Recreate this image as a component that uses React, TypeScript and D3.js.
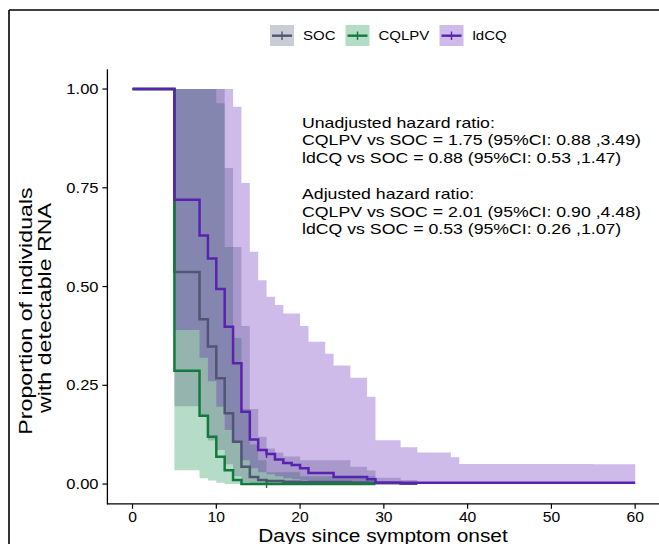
import React from 'react';
import * as d3 from 'd3';

// Kaplan-Meier steps (day, survival, CI lower, CI upper)
const socDays = [0, 5, 8, 9, 10, 11, 12, 13, 14, 15, 16, 17, 18, 20, 26, 28, 29, 32, 34];
const socSurv = [1, 0.537, 0.417, 0.348, 0.268, 0.179, 0.107, 0.044, 0.018, 0.01, 0.008, 0.008, 0.006, 0.005, 0.004, 0.003, 0.002, 0.001, 0];
const socLower = [1, 0.197, 0.17, 0.11, 0.086, 0.05, 0.02, 0.005, 0.002, 0, 0, 0, 0, 0, 0, 0, 0, 0, 0];
const socUpper = [1, 1, 1, 1, 1, 0.8, 0.6, 0.4, 0.19, 0.12, 0.09, 0.08, 0.07, 0.06, 0.044, 0.034, 0.016, 0.01, 0];

const cqDays = [0, 5, 8, 9, 10, 11, 12, 13, 14, 15, 16, 20, 29];
const cqSurv = [1, 0.287, 0.173, 0.12, 0.069, 0.035, 0.01, 0, 0, 0, 0, 0, 0];
const cqLower = [1, 0.035, 0.015, 0.009, 0.003, 0, 0, 0, 0, 0, 0, 0, 0];
const cqUpper = [1, 1, 1, 1, 0.964, 0.6, 0.37, 0.19, 0.1, 0.06, 0.03, 0.02, 0];

const ldDays = [0, 5, 8, 9, 10, 11, 12, 13, 14, 15, 16, 17, 18, 19, 20, 21, 23, 24, 26, 28, 29, 32, 34, 38, 39, 55, 60];
const ldSurv = [1, 0.72, 0.629, 0.571, 0.494, 0.398, 0.306, 0.183, 0.113, 0.086, 0.076, 0.062, 0.053, 0.048, 0.04, 0.028, 0.028, 0.018, 0.018, 0.012, 0.004, 0.003, 0.003, 0.003, 0.003, 0.003, 0.003];
const ldLower = [1, 0.39, 0.32, 0.26, 0.196, 0.137, 0.107, 0.06, 0.04, 0.03, 0.025, 0.02, 0.015, 0.012, 0.01, 0.008, 0.006, 0.005, 0.004, 0.002, 0, 0, 0, 0, 0, 0, 0];
const ldUpper = [1, 1, 1, 1, 1, 1, 0.955, 0.762, 0.588, 0.516, 0.474, 0.453, 0.432, 0.432, 0.4, 0.36, 0.33, 0.3, 0.269, 0.221, 0.111, 0.093, 0.08, 0.068, 0.051, 0.05, 0.05];

// censored observations (+)
const censors = [
  { group: 'CQLPV', day: 16, surv: 0 },
  { group: 'ldCQ', day: 16, surv: 0.076 },
];

const groupNames = ['SOC', 'CQLPV', 'ldCQ'];
const xTicks = [0, 10, 20, 30, 40, 50, 60];
const yTicks = [0, 0.25, 0.5, 0.75, 1];

const hrLines = [
  'Unadjusted hazard ratio:',
  'CQLPV vs SOC = 1.75 (95%CI: 0.88 ,3.49)',
  'ldCQ vs SOC = 0.88 (95%CI: 0.53 ,1.47)',
  '',
  'Adjusted hazard ratio:',
  'CQLPV vs SOC = 2.01 (95%CI: 0.90 ,4.48)',
  'ldCQ vs SOC = 0.53 (95%CI: 0.26 ,1.07)',
];

const colors: Record<string, string> = { SOC: '#4e5a75', CQLPV: '#0a8a45', ldCQ: '#5c1db5' };
const lineColors: Record<string, string> = { SOC: '#4e5674', CQLPV: '#137a3e', ldCQ: '#5a22b0' };
const FONT = '"Liberation Sans", Arial, sans-serif';

const W = 659;
const H = 544;

type Pt = { d: number; s: number; lo: number; hi: number };
const zip = (days: number[], s: number[], lo: number[], hi: number[]): Pt[] =>
  days.map((d, i) => ({ d, s: s[i], lo: lo[i], hi: hi[i] }));

const groups: Record<string, Pt[]> = {
  SOC: zip(socDays, socSurv, socLower, socUpper),
  CQLPV: zip(cqDays, cqSurv, cqLower, cqUpper),
  ldCQ: zip(ldDays, ldSurv, ldLower, ldUpper),
};

// text stretched a little horizontally like the original
const T = ({ x, y, sx = 1.15, size, anchor = 'start', rotate = 0, children }: any) => (
  <text
    transform={`translate(${x},${y}) rotate(${rotate}) scale(${sx},1)`}
    fontSize={size}
    fontFamily={FONT}
    textAnchor={anchor}
    fill="#000"
  >
    {children}
  </text>
);

export default function App() {
  const x = d3.scaleLinear().domain([-3, 63]).range([107.4, 660.3]);
  const y = d3.scaleLinear().domain([-0.05, 1.05]).range([503.8, 69.3]);

  const band = d3
    .area<Pt>()
    .x(p => x(p.d))
    .y0(p => y(p.lo))
    .y1(p => y(p.hi))
    .curve(d3.curveStepAfter);
  const line = d3
    .line<Pt>()
    .x(p => x(p.d))
    .y(p => y(p.s))
    .curve(d3.curveStepAfter);

  const bandOrder = ['CQLPV', 'SOC', 'ldCQ'];
  const lineOrder = ['SOC', 'CQLPV', 'ldCQ'];

  const legendX = [270, 345.5, 439.5];

  return (
    <svg width={W} height={H} style={{ position: 'absolute', left: 0, top: 0, background: '#fff' }}>
      {/* outer frame */}
      <line x1={9} x2={W} y1={10} y2={10} stroke="#000" strokeWidth={1.6} />
      <line x1={9} x2={9} y1={10} y2={H} stroke="#000" strokeWidth={1.6} />

      {/* legend */}
      {groupNames.map((g, i) => (
        <g key={g}>
          <rect x={legendX[i]} y={25} width={24} height={21} fill={colors[g]} fillOpacity={0.3} />
          <line x1={legendX[i] + 2} x2={legendX[i] + 22} y1={35.7} y2={35.7} stroke={lineColors[g]} strokeWidth={2.4} />
          <line x1={legendX[i] + 12} x2={legendX[i] + 12} y1={31.5} y2={40} stroke={lineColors[g]} strokeWidth={1.4} />
          <T x={legendX[i] + 33} y={40.3} size={12.5} sx={1.2}>
            {g}
          </T>
        </g>
      ))}

      {/* confidence bands */}
      {bandOrder.map(g => (
        <path key={g} d={band(groups[g]) || ''} fill={colors[g]} fillOpacity={0.3} />
      ))}

      {/* survival curves */}
      {lineOrder.map(g => (
        <path key={g} d={line(groups[g]) || ''} fill="none" stroke={lineColors[g]} strokeWidth={2.5} />
      ))}

      {censors.map((c, i) => (
        <line
          key={i}
          x1={x(c.day)}
          x2={x(c.day)}
          y1={y(c.surv) - 4}
          y2={y(c.surv) + 4}
          stroke={lineColors[c.group]}
          strokeWidth={1.4}
        />
      ))}

      {/* axes */}
      <line x1={x.range()[0]} x2={x.range()[0]} y1={y.range()[1]} y2={y.range()[0] + 0.6} stroke="#000" strokeWidth={1.3} />
      <line x1={x.range()[0]} x2={W} y1={y.range()[0]} y2={y.range()[0]} stroke="#000" strokeWidth={1.3} />
      {yTicks.map(t => (
        <g key={t}>
          <line x1={x.range()[0] - 5} x2={x.range()[0]} y1={y(t)} y2={y(t)} stroke="#000" strokeWidth={1.2} />
          <T x={98.5} y={y(t) + 5} size={14} sx={1.18} anchor="end">
            {d3.format('.2f')(t)}
          </T>
        </g>
      ))}
      {xTicks.map(t => (
        <g key={t}>
          <line x1={x(t)} x2={x(t)} y1={y.range()[0]} y2={y.range()[0] + 5} stroke="#000" strokeWidth={1.2} />
          <T x={x(t)} y={522} size={14} sx={1.12} anchor="middle">
            {t}
          </T>
        </g>
      ))}

      {/* axis titles */}
      <T x={383} y={541.5} size={18.5} sx={1.13} anchor="middle">
        Days since symptom onset
      </T>
      <T x={32} y={311} size={19} sx={1.22} anchor="middle" rotate={-90}>
        Proportion of individuals
      </T>
      <T x={50.5} y={308} size={19} sx={1.22} anchor="middle" rotate={-90}>
        with detectable RNA
      </T>

      {/* hazard ratio annotation */}
      {hrLines.map((s, i) => (
        <T key={i} x={302} y={127.5 + i * 17.8} size={14} sx={1.265}>
          {s}
        </T>
      ))}
    </svg>
  );
}
